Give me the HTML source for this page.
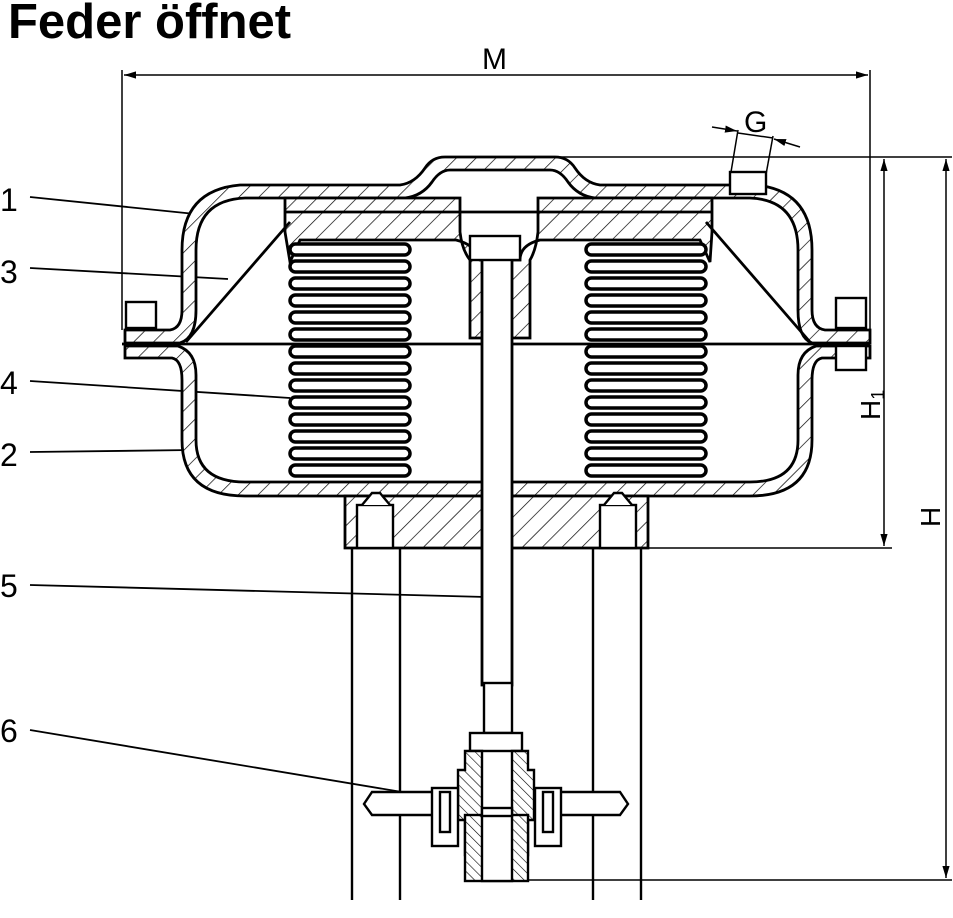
<!DOCTYPE html>
<html><head><meta charset="utf-8"><style>
html,body{margin:0;padding:0;background:#fff;}
svg{display:block;}
text{font-family:"Liberation Sans",Arial,sans-serif;fill:#000;}
</style></head><body>
<svg width="953" height="918" viewBox="0 0 953 918" xmlns="http://www.w3.org/2000/svg">
<defs>
<pattern id="h" patternUnits="userSpaceOnUse" width="14" height="14" patternTransform="rotate(45)">
<rect width="14" height="14" fill="#fff"/><line x1="0" y1="0" x2="0" y2="14" stroke="#000" stroke-width="1.4"/></pattern>
<pattern id="h2" patternUnits="userSpaceOnUse" width="7" height="7" patternTransform="rotate(-45)">
<rect width="7" height="7" fill="#fff"/><line x1="0" y1="0" x2="0" y2="7" stroke="#000" stroke-width="1.2"/></pattern>
<marker id="a" viewBox="0 0 10 10" refX="10" refY="5" markerWidth="8" markerHeight="8" orient="auto-start-reverse"><path d="M0,2 L10,5 L0,8z" fill="#000"/></marker>
</defs>
<text x="8" y="38" font-size="49" font-weight="bold">Feder öffnet</text>

<g stroke="#000" fill="none" stroke-width="2.4">
<line x1="122" y1="70" x2="122" y2="330" stroke-width="1.5"/>
<line x1="870" y1="70" x2="870" y2="330" stroke-width="1.5"/>
<line x1="124" y1="75" x2="868" y2="75" marker-start="url(#a)" marker-end="url(#a)" stroke-width="1.5"/>
<line x1="560" y1="157" x2="952" y2="157" stroke-width="1.5"/>
<line x1="620" y1="548" x2="892" y2="548" stroke-width="1.5"/>
<line x1="520" y1="880" x2="952" y2="880" stroke-width="1.5"/>
<line x1="884" y1="159" x2="884" y2="546" marker-start="url(#a)" marker-end="url(#a)" stroke-width="1.5"/>
<line x1="946" y1="159" x2="946" y2="878" marker-start="url(#a)" marker-end="url(#a)" stroke-width="1.5"/>
<line x1="738" y1="130" x2="730" y2="178" stroke-width="1.5"/>
<line x1="773" y1="136" x2="765" y2="180" stroke-width="1.5"/>
<line x1="712" y1="127" x2="737" y2="131" marker-end="url(#a)" stroke-width="1.5"/>
<line x1="800" y1="147" x2="774" y2="139" marker-end="url(#a)" stroke-width="1.5"/>
<line x1="738" y1="133" x2="773" y2="138" stroke-width="1.5"/>

<g stroke-width="1.8">
<line x1="30" y1="197" x2="205" y2="215"/>
<line x1="30" y1="268" x2="228" y2="279"/>
<line x1="30" y1="381" x2="290" y2="398"/>
<line x1="30" y1="452" x2="192" y2="450"/>
<line x1="30" y1="585" x2="486" y2="597"/>
<line x1="30" y1="730" x2="468" y2="803"/>
</g>

<line x1="352" y1="548" x2="352" y2="900"/>
<line x1="400" y1="548" x2="400" y2="900"/>
<line x1="593" y1="548" x2="593" y2="900"/>
<line x1="641" y1="548" x2="641" y2="900"/>

<path d="M125,330 L170,330 Q182,328 182,310 L182,250 Q182,190 240,185 L400,185 Q415,183 425,168 Q432,157 445,157 L555,157 Q568,157 575,168 Q585,183 600,185 L755,185 Q812,190 812,250 L812,310 Q812,328 825,330 L870,330 L870,343 L812,343 Q798,338 798,310 L798,250 Q798,200 750,198 L595,198 Q578,196 568,182 Q560,170 550,170 L450,170 Q440,170 432,182 Q422,196 405,198 L245,198 Q196,200 196,250 L196,310 Q196,338 180,343 L125,343 Z" fill="url(#h)" stroke-width="2.8"/>
<path d="M125,346 L178,346 Q196,352 196,375 L196,440 Q196,482 245,482 L750,482 Q798,482 798,440 L798,375 Q798,352 816,346 L870,346 L870,358 L822,358 Q812,360 812,380 L812,440 Q812,496 750,496 L245,496 Q182,496 182,440 L182,380 Q182,360 172,358 L125,358 Z" fill="url(#h)" stroke-width="2.8"/>
<line x1="122" y1="344" x2="870" y2="344" stroke-width="2.8"/>
<rect x="126" y="302" width="30" height="26" fill="#fff"/>
<rect x="836" y="298" width="30" height="30" fill="#fff"/>
<rect x="836" y="346" width="30" height="24" fill="#fff"/>
<rect x="730" y="172" width="36" height="22" fill="#fff"/>

<path d="M285,198 L460,198 L460,232 Q462,250 470,260 L470,338 L530,338 L530,260 Q536,250 538,232 L538,198 L712,198 L712,232 L710,262 L700,240 L540,240 Q520,245 520,260 L480,260 Q476,245 456,240 L300,240 L290,262 L285,232 Z" fill="url(#h)" stroke-width="2.8"/>
<line x1="285" y1="212" x2="712" y2="212" stroke-width="2.8"/>
<line x1="186" y1="342" x2="290" y2="222" stroke-width="2.8"/>
<line x1="810" y1="342" x2="706" y2="222" stroke-width="2.8"/>

<g stroke-width="3.5" fill="#fff">
<rect x="290" y="244" width="120" height="11" rx="5.5"/><rect x="290" y="261" width="120" height="11" rx="5.5"/><rect x="290" y="278" width="120" height="11" rx="5.5"/><rect x="290" y="295" width="120" height="11" rx="5.5"/><rect x="290" y="312" width="120" height="11" rx="5.5"/><rect x="290" y="329" width="120" height="11" rx="5.5"/><rect x="290" y="346" width="120" height="11" rx="5.5"/><rect x="290" y="363" width="120" height="11" rx="5.5"/><rect x="290" y="380" width="120" height="11" rx="5.5"/><rect x="290" y="397" width="120" height="11" rx="5.5"/><rect x="290" y="414" width="120" height="11" rx="5.5"/><rect x="290" y="431" width="120" height="11" rx="5.5"/><rect x="290" y="448" width="120" height="11" rx="5.5"/><rect x="290" y="465" width="120" height="11" rx="5.5"/>
<rect x="586" y="244" width="120" height="11" rx="5.5"/><rect x="586" y="261" width="120" height="11" rx="5.5"/><rect x="586" y="278" width="120" height="11" rx="5.5"/><rect x="586" y="295" width="120" height="11" rx="5.5"/><rect x="586" y="312" width="120" height="11" rx="5.5"/><rect x="586" y="329" width="120" height="11" rx="5.5"/><rect x="586" y="346" width="120" height="11" rx="5.5"/><rect x="586" y="363" width="120" height="11" rx="5.5"/><rect x="586" y="380" width="120" height="11" rx="5.5"/><rect x="586" y="397" width="120" height="11" rx="5.5"/><rect x="586" y="414" width="120" height="11" rx="5.5"/><rect x="586" y="431" width="120" height="11" rx="5.5"/><rect x="586" y="448" width="120" height="11" rx="5.5"/><rect x="586" y="465" width="120" height="11" rx="5.5"/>
</g>

<path d="M345,496 L648,496 L648,548 L345,548 Z" fill="url(#h)" stroke-width="2.8"/>
<rect x="357" y="505" width="36" height="43" fill="#fff"/>
<path d="M362,505 L372,493 L380,493 L390,505" fill="#fff"/>
<rect x="600" y="505" width="36" height="43" fill="#fff"/>
<path d="M604,505 L614,493 L622,493 L632,505" fill="#fff"/>

<rect x="482" y="255" width="30" height="430" fill="#fff" stroke-width="2.8"/>
<rect x="470" y="236" width="50" height="24" fill="#fff"/>
<rect x="484" y="683" width="28" height="50" fill="#fff"/>

<rect x="470" y="733" width="52" height="18" fill="#fff"/>
<path d="M465,751 L470,751 L482,751 L482,855 L465,855 L465,820 L458,820 L458,770 L465,770 Z" fill="url(#h2)"/>
<path d="M528,751 L512,751 L512,855 L528,855 L528,820 L534,820 L534,770 L528,770 Z" fill="url(#h2)"/>
<rect x="465" y="815" width="63" height="66" fill="url(#h2)"/>
<rect x="482" y="815" width="30" height="66" fill="#fff"/>
<rect x="482" y="808" width="30" height="8" fill="#fff"/>
<path d="M372,792 L436,792 L436,815 L372,815 L364,804 Z" fill="#fff"/>
<path d="M556,792 L620,792 L628,804 L620,815 L556,815 Z" fill="#fff"/>
<rect x="432" y="788" width="26" height="58" fill="#fff"/>
<rect x="535" y="788" width="26" height="58" fill="#fff"/>
<rect x="440" y="792" width="10" height="40" fill="#fff"/>
<rect x="543" y="792" width="10" height="40" fill="#fff"/>
</g>

<text x="482" y="69" font-size="30">M</text>
<text x="744" y="132" font-size="30">G</text>
<g font-size="32">
<text x="0" y="211">1</text>
<text x="0" y="283">3</text>
<text x="0" y="394">4</text>
<text x="0" y="466">2</text>
<text x="0" y="597">5</text>
<text x="0" y="742">6</text>
</g>
<text transform="translate(880,420) rotate(-90)" font-size="28">H<tspan font-size="18" dy="4">1</tspan></text>
<text transform="translate(940,527) rotate(-90)" font-size="28">H</text>
</svg>
</body></html>
